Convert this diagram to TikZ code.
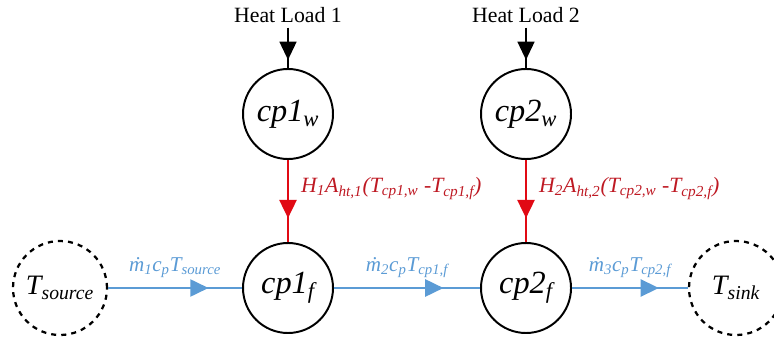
\documentclass[tikz,border=0pt]{standalone}
\usepackage{fontspec}
\setmainfont{Liberation Serif}
\usepackage{tikz}
\usetikzlibrary{
	arrows.meta,
	positioning,
	decorations.markings
}
\definecolor{FlowBlue}{RGB}{91,155,213}
\definecolor{HeatRed}{RGB}{225,10,20}
\definecolor{DarkRed}{RGB}{190,25,35}

\begin{document}
\begin{tikzpicture}[
		cpnode/.style={circle, draw, line width=1.4pt, minimum size=2.25cm, inner sep=0pt, font=\fontsize{23}{26}\selectfont\itshape},
		bnode/.style={circle, draw, line width=1.6pt, dash pattern=on 3.6pt off 3.6pt, minimum size=2.35cm, inner sep=0pt, font=\fontsize{20}{24}\selectfont\itshape},
		midarrow/.style={postaction={decorate, decoration={markings, mark=at position #1 with {\arrow{Triangle[length=13pt,width=12pt]}}}}},
		flow/.style={FlowBlue, line width=2pt, midarrow=0.75},
		heat/.style={HeatRed, line width=2pt, midarrow=0.71},
		load/.style={black, line width=1.4pt, midarrow=0.8},
		flowlbl/.style={FlowBlue, font=\fontsize{15}{18}\selectfont\itshape},
		heatlbl/.style={DarkRed, font=\fontsize{15.5}{18}\selectfont\itshape}
	]
		\useasboundingbox (0,0) rectangle (19.35,8.425);
		\clip (0,0) rectangle (19.35,8.425);
		% heat loads
		\node[font=\fontsize{15.5}{18}\selectfont] (load1) at (7.2,8.05) {Heat Load 1};
		\node[font=\fontsize{15.5}{18}\selectfont] (load2) at (13.15,8.05) {Heat Load 2};
		% wall and fluid nodes
		\node[cpnode] (cp1w) at (7.2,5.575) {cp1\textsubscript{w}};
		\node[cpnode] (cp2w) at (13.15,5.575) {cp2\textsubscript{w}};
		\node[cpnode] (cp1f) at (7.2,1.225) {cp1\textsubscript{f}};
		\node[cpnode] (cp2f) at (13.15,1.225) {cp2\textsubscript{f}};
		% source and sink
		\node[bnode] (src) at (1.5,1.225) {T\textsubscript{source}};
		\node[bnode] (sink) at (18.4,1.225) {T\textsubscript{sink}};
		\draw[load] (load1) -- (cp1w);
		\draw[load] (load2) -- (cp2w);
		\draw[heat] (cp1w) -- (cp1f) node[heatlbl, pos=0.35, right=5pt] {H\textsubscript{1}A\textsubscript{ht,1}(T\textsubscript{cp1,w} -T\textsubscript{cp1,f})};
		\draw[heat] (cp2w) -- (cp2f) node[heatlbl, pos=0.35, right=5pt] {H\textsubscript{2}A\textsubscript{ht,2}(T\textsubscript{cp2,w} -T\textsubscript{cp2,f})};
		\draw[flow] (src) -- (cp1f) node[flowlbl, midway, above=3pt] {\.m\textsubscript{1}c\textsubscript{p}T\textsubscript{source}};
		\draw[flow] (cp1f) -- (cp2f) node[flowlbl, midway, above=3pt] {\.m\textsubscript{2}c\textsubscript{p}T\textsubscript{cp1,f}};
		\draw[flow] (cp2f) -- (sink) node[flowlbl, midway, above=3pt] {\.m\textsubscript{3}c\textsubscript{p}T\textsubscript{cp2,f}};
	\end{tikzpicture}
\end{document}
